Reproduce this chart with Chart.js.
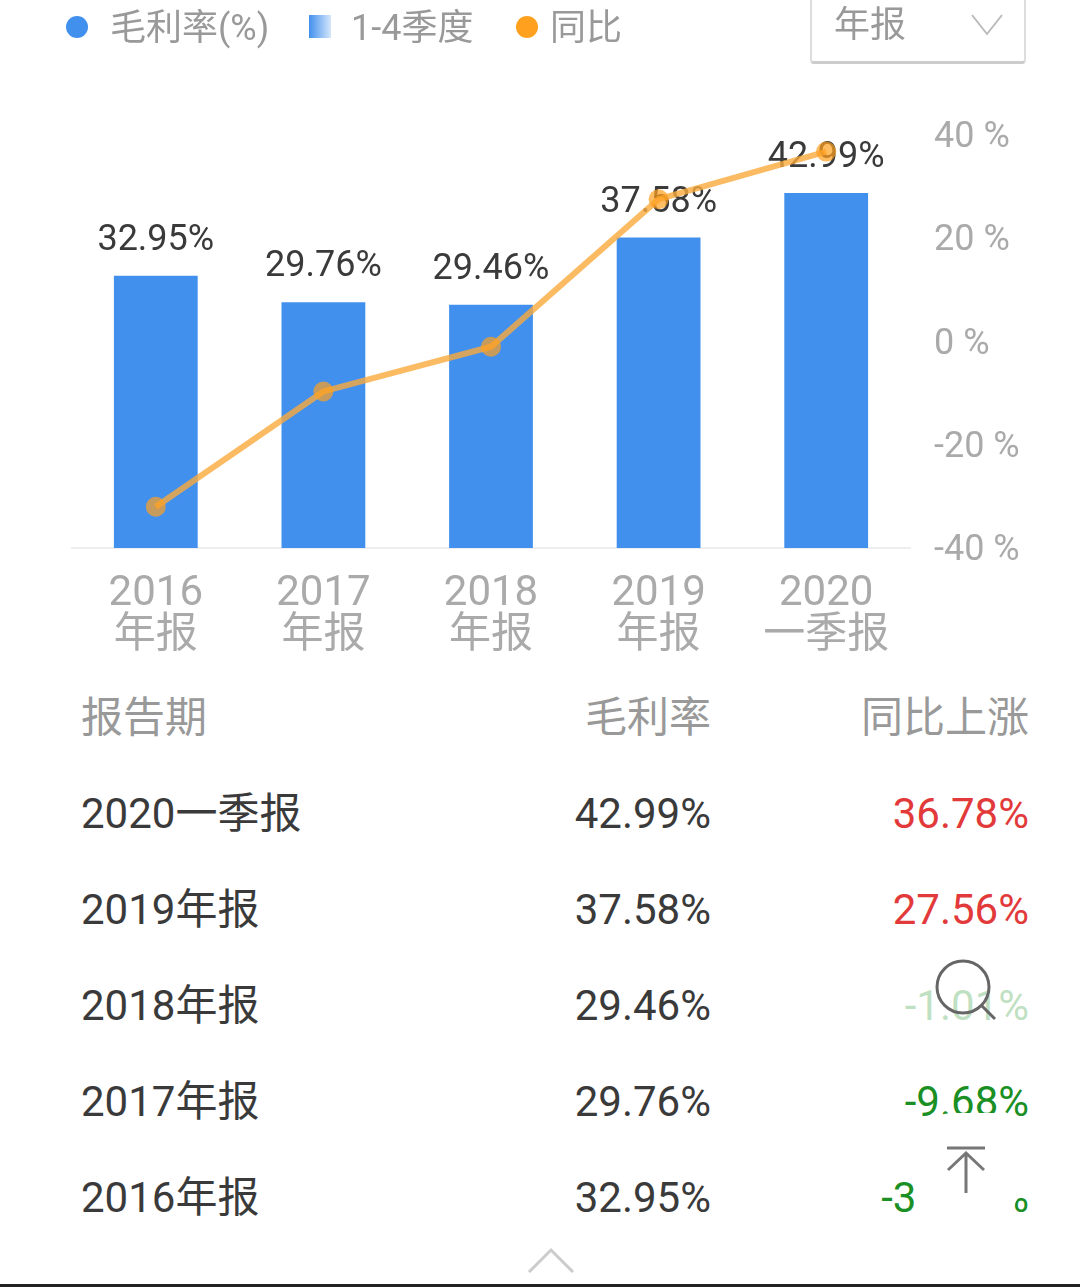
<!DOCTYPE html>
<html>
<head>
<meta charset="utf-8">
<style>
  html, body { margin: 0; padding: 0; background: #fff; }
  body { width: 1080px; height: 1287px; position: relative; overflow: hidden; font-family: Roboto, "Noto Sans CJK SC", sans-serif; }
  #chart { position: absolute; left: 0; top: 0; }
  .abs { position: absolute; white-space: nowrap; line-height: 1; }
  .legend { font-size: 36px; color: #999; top: 10px; }
  .dot { position: absolute; width: 22px; height: 22px; border-radius: 50%; top: 16px; }
  #select { position: absolute; left: 810px; top: -4px; width: 212px; height: 63px; border: 2px solid #ddd; border-bottom: 3px solid #ccc; border-radius: 4px; }
  .cell { position: absolute; white-space: nowrap; font-size: 42px; line-height: 1; color: #3a3a3a; }
  .head { color: #999; }
  .overlay { position: absolute; border-radius: 50%; background: #fff; }
  svg { position: absolute; left: 0; top: 0; }
</style>
</head>
<body>
<canvas id="chart" width="1080" height="680"></canvas>

<div class="dot" style="left:66px;background:#4290ee"></div>
<div class="abs legend" style="left:110px">毛利率(%)</div>
<div style="position:absolute;left:309px;top:15px;width:22px;height:23px;background:linear-gradient(to right,#4290ee,#d5e6fb)"></div>
<div class="abs legend" style="left:351px">1-4季度</div>
<div class="dot" style="left:516px;background:#ffa01e"></div>
<div class="abs legend" style="left:550px">同比</div>
<div id="select"></div>
<div class="abs legend" style="left:834px;top:7px">年报</div>

<div id="table"></div>

<div class="overlay" style="left:900px;top:935px;width:130px;height:130px;opacity:.72"></div>
<svg width="1080" height="1287" fill="none">
  <path d="M955 1113 H1000 Q1030 1113 1030 1165 V1190 Q1013 1196 1013 1215 Q1000 1235 965 1235 Q914 1235 914 1190 V1160 Q914 1113 955 1113 Z" fill="#fff"/>
  <path d="M972 15 L987 34 L1002 15" stroke="#bbb" stroke-width="2"/>
  <circle cx="963" cy="987" r="26" stroke="#666" stroke-width="3"/>
  <path d="M982 1006 L995 1019" stroke="#666" stroke-width="3"/>
  <path d="M947 1148 H985 M966 1153 V1193 M948 1170 L966 1153 L984 1170" stroke="#777" stroke-width="3"/>
  <path d="M529 1272 L551 1250 L573 1272" stroke="#ccc" stroke-width="3"/>
  <rect x="0" y="1284" width="1080" height="3" fill="#222"/>
</svg>

<script src="https://cdn.jsdelivr.net/npm/chart.js@4"></script>
<script>
const categories = [["2016", "年报"], ["2017", "年报"], ["2018", "年报"], ["2019", "年报"], ["2020", "一季报"]];
const grossMargin = [32.95, 29.76, 29.46, 37.58, 42.99];
const yoyChange = [-32.0, -9.68, -1.01, 27.56, 36.78];
const rightTicks = [-40, -20, 0, 20, 40];

const tableHead = ["报告期", "毛利率", "同比上涨"];
const tablePeriods = ["2020一季报", "2019年报", "2018年报", "2017年报", "2016年报"];
const tableMargins = ["42.99%", "37.58%", "29.46%", "29.76%", "32.95%"];
const tableChanges = ["36.78%", "27.56%", "-1.01%", "-9.68%", "-32.01%"];

const FONT = 'Roboto, "Noto Sans CJK SC", sans-serif';

// data labels go under the line, so draw them right before the line dataset
const barLabels = {
  id: "barLabels",
  beforeDatasetDraw(chart, args) {
    if (args.index !== 1) return;
    const ctx = chart.ctx;
    ctx.save();
    ctx.font = `36px ${FONT}`;
    ctx.fillStyle = "#3a3a3a";
    ctx.textAlign = "center";
    ctx.textBaseline = "middle";
    chart.getDatasetMeta(0).data.forEach((bar, i) => {
      ctx.fillText(grossMargin[i].toFixed(2) + "%", bar.x, bar.y - 35);
    });
    ctx.restore();
  },
};

new Chart(document.getElementById("chart"), {
  data: {
    labels: categories,
    datasets: [
      { type: "bar", data: grossMargin, yAxisID: "y", backgroundColor: "#4290ee", barPercentage: 0.5, categoryPercentage: 1, order: 2 },
      {
        type: "line", data: yoyChange, yAxisID: "y1", borderColor: "rgba(250,170,60,0.8)", borderWidth: 6,
        pointRadius: 10, pointHoverRadius: 10, pointBorderWidth: 0, pointBackgroundColor: "rgba(255,160,30,0.7)", tension: 0, order: 1,
      },
    ],
  },
  options: {
    responsive: false,
    animation: false,
    layout: { padding: { left: 72, top: 135, right: 0, bottom: 0 } },
    plugins: { legend: { display: false }, tooltip: { enabled: false } },
    scales: {
      x: {
        grid: { display: false },
        border: { color: "#eee", width: 2 },
        ticks: { color: "#aaa", font: { family: FONT, size: 42, lineHeight: 1 }, padding: 17, maxRotation: 0, autoSkip: false },
        afterFit(scale) { scale.height = 132; },
      },
      y: { display: false, min: 0, max: 50 },
      y1: {
        position: "right",
        min: -40,
        max: 40,
        grid: { display: false },
        border: { display: false },
        afterBuildTicks(scale) { scale.ticks = rightTicks.map((value) => ({ value })); },
        ticks: { color: "#aaa", font: { family: FONT, size: 36 }, padding: 16, labelOffset: 3, callback: (v) => `${v} %` },
        afterFit(scale) { scale.width = 170; },
      },
    },
  },
  plugins: [barLabels],
});

function addCell(text, top, side, x, cls, color) {
  const el = document.createElement("div");
  el.className = "cell " + cls;
  el.textContent = text;
  el.style.top = top + "px";
  el.style[side] = x + "px";
  if (color) el.style.color = color;
  document.getElementById("table").appendChild(el);
}

addCell(tableHead[0], 697, "left", 81, "head");
addCell(tableHead[1], 697, "right", 369, "head");
addCell(tableHead[2], 697, "right", 51, "head");
tablePeriods.forEach((period, i) => {
  const top = 793 + i * 96;
  addCell(period, top, "left", 81, "");
  addCell(tableMargins[i], top, "right", 369, "");
  addCell(tableChanges[i], top, "right", 51, "", tableChanges[i].startsWith("-") ? "#1a8f24" : "#e23a3a");
});
</script>
</body>
</html>
